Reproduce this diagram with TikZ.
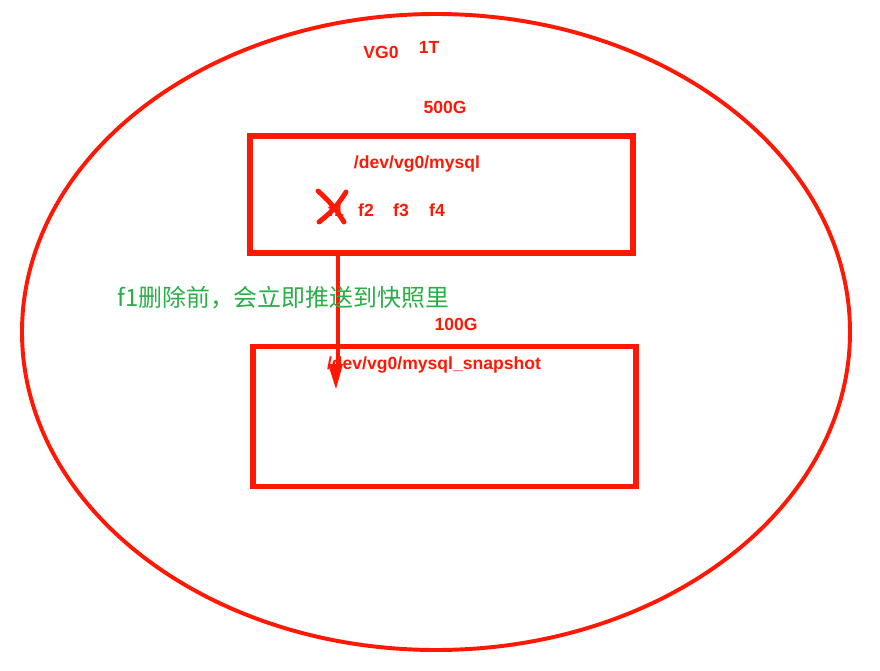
\documentclass[tikz,border=0pt]{standalone}
\usepackage{fontspec}
\setmainfont{Liberation Sans}
\newfontfamily\cjk{Noto Sans CJK SC}
\usetikzlibrary{calc}

\definecolor{penred}{RGB}{255,25,5}
\definecolor{pengreen}{RGB}{40,175,70}

\begin{document}
\begin{tikzpicture}[x=0.025cm, y=-0.025cm,
	lbl/.style={text=penred, font=\bfseries\fontsize{12.5}{14}\selectfont, inner sep=0pt},
	pen/.style={draw=penred, line width=2.8pt},
	box/.style={draw=penred, line width=4.2pt, outer sep=0pt}]
	\useasboundingbox (0, 0) rectangle (880, 670);

	\draw [pen] (436, 332) ellipse (414 and 318);
	\node (V) at (381, 52) [lbl] {VG0};
	\node (T) at (429, 47) [lbl] {1T};

	\node (S1) at (445, 107) [lbl] {500G};
	\node (L1) [box, minimum width=383*0.025cm, minimum height=117*0.025cm] at (441.5, 194.5) {};
	\node (M1) at (417, 164) [lbl] {/dev/vg0/mysql};
	\node (F1) at (336, 210) [lbl] {f1};
	\node (F2) at (366, 210) [lbl] {f2};
	\node (F3) at (401, 210) [lbl] {f3};
	\node (F4) at (437, 210) [lbl] {f4};
	\draw [penred, line width=3.5pt, line cap=round] ($(F1) + (-18, -19)$) to [bend left=8] ($(F1) + (8, 12)$);
	\draw [penred, line width=3.5pt, line cap=round] ($(F1) + (10, -18)$) to [bend left=10] ($(F1) + (-17, 12)$);

	\node (S2) at (456, 324) [lbl] {100G};
	\node (L2) [box, minimum width=383*0.025cm, minimum height=140*0.025cm] at (444.5, 416.5) {};
	\node (M2) at (434, 365) [lbl] {/dev/vg0/mysql\_snapshot};

	\coordinate (A) at (336, 389);
	\draw [penred, line width=3pt] (338, 255) -- (338, 370);
	\fill [penred] (A) -- ($(A) + (-8, -25)$) -- ($(A) + (7, -25)$) -- cycle;

	\node (N) at (117, 298) [anchor=west, inner sep=0pt, text=pengreen, font=\cjk\fontsize{17}{19}\selectfont] {f1删除前，会立即推送到快照里};
\end{tikzpicture}
\end{document}
